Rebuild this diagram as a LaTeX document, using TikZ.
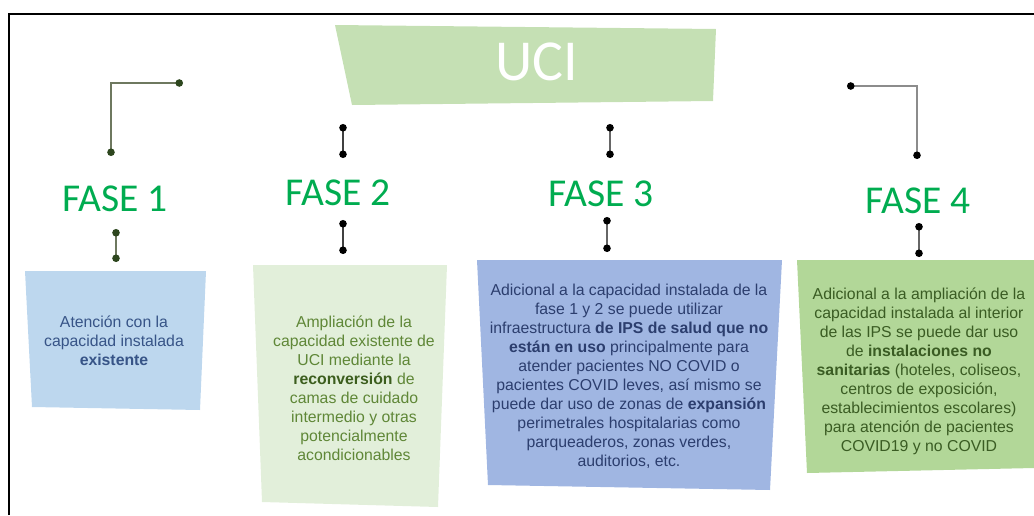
\documentclass[tikz,border=0pt]{standalone}
\usepackage{fontspec}
\setmainfont{Liberation Sans}
\newfontfamily\calibri{Carlito}
\usetikzlibrary{arrows.meta}

\definecolor{bannergreen}{RGB}{197,224,180}
\definecolor{fasegreen}{RGB}{0,172,80}
\definecolor{boxblue}{RGB}{189,215,238}
\definecolor{boxpale}{RGB}{226,239,218}
\definecolor{boxdeep}{RGB}{160,182,226}
\definecolor{boxgreen}{RGB}{178,215,152}
\definecolor{txtblue}{RGB}{55,84,135}
\definecolor{txtolive}{RGB}{95,135,55}
\definecolor{txtolivedk}{RGB}{60,94,30}
\definecolor{txtnavy}{RGB}{44,62,110}
\definecolor{txtgreen}{RGB}{58,92,35}
\definecolor{linkolive}{RGB}{110,120,95}
\definecolor{dotolive}{RGB}{45,70,30}

\tikzset{
  fase/.style={font=\calibri\fontsize{39.5}{39.5}\selectfont, text=fasegreen, inner sep=0pt},
  desc/.style={align=center, font=\fontsize{15.8}{19}\selectfont, inner sep=0pt},
  link/.style={line width=1.3pt, {Circle[length=7.5pt]}-{Circle[length=7.5pt]}},
}

\begin{document}
\begin{tikzpicture}[x=1pt, y=-1pt]
    \useasboundingbox (0,0) rectangle (1034,515);
    % frame of the screenshot
    \draw[line width=1.6pt] (9,515) -- (9,14) -- (1034,14);

    % title banner
    \fill[bannergreen] (335,25) -- (716,29) -- (713,101) -- (352,105) -- cycle;
    \node[font=\calibri\fontsize{58}{58}\selectfont, text=white, inner sep=0pt] (uci) at (537,62) {UCI};

    % phases
    \node[fase] (fase1) at (115,199) {FASE 1};
    \node[fase] (fase2) at (338,193) {FASE 2};
    \node[fase] (fase3) at (601,194) {FASE 3};
    \node[fase] (fase4) at (918,201) {FASE 4};

    % boxes
    \fill[boxblue] (25,271) -- (206,271) -- (200,410) -- (32,407) -- cycle;
    \fill[boxpale] (253,265) -- (447,265) -- (438,507) -- (262,502) -- cycle;
    \fill[boxdeep] (477,260) -- (782,260) -- (770,490) -- (488,485) -- cycle;
    \fill[boxgreen] (797,260) -- (1034,260) -- (1034,468) -- (807,473) -- cycle;

    \node[desc, text=txtblue] (desc1) at (114,341)
        {Atención con la\\ capacidad instalada\\ \textbf{existente}};
    \node[desc, text=txtolive] (desc2) at (354,388)
        {Ampliación de la\\ capacidad existente de\\ UCI mediante la\\
         \textcolor{txtolivedk}{\textbf{reconversión}} de\\ camas de cuidado\\
         intermedio y otras\\ potencialmente\\ acondicionables};
    \node[desc, text=txtnavy] (desc3) at (629,376)
        {Adicional a la capacidad instalada de la\\ fase 1 y 2 se puede utilizar\\
         infraestructura \textbf{de IPS de salud que no}\\
         \textbf{están en uso} principalmente para\\ atender pacientes NO COVID o\\
         pacientes COVID leves, así mismo se\\ puede dar uso de zonas de \textbf{expansión}\\
         perimetrales hospitalarias como\\ parqueaderos, zonas verdes,\\ auditorios, etc.};
    \node[desc, text=txtgreen] (desc4) at (919,371)
        {Adicional a la ampliación de la\\ capacidad instalada al interior\\
         de las IPS se puede dar uso\\ de \textbf{instalaciones no}\\
         \textbf{sanitarias} (hoteles, coliseos,\\ centros de exposición,\\
         establecimientos escolares)\\ para atención de pacientes\\ COVID19 y no COVID};

    % connector ends
    \coordinate (f1a) at (183,83);
    \coordinate (f1b) at (111,156);
    \coordinate (f1c) at (116,229);
    \coordinate (f1d) at (116,262);
    \coordinate (f2a) at (343,124);
    \coordinate (f2b) at (343,158);
    \coordinate (f2c) at (343,220);
    \coordinate (f2d) at (343,254);
    \coordinate (f3a) at (610,124);
    \coordinate (f3b) at (610,158);
    \coordinate (f3c) at (607,217);
    \coordinate (f3d) at (607,252);
    \coordinate (f4a) at (847,86);
    \coordinate (f4b) at (917,159);
    \coordinate (f4c) at (919,223);
    \coordinate (f4d) at (919,257);

    \draw[link, linkolive, {Circle[length=7.5pt, color=dotolive]}-{Circle[length=7.5pt, color=dotolive]}] (f1a) -| (f1b);
    \draw[link, linkolive, {Circle[length=7.5pt, color=dotolive]}-{Circle[length=7.5pt, color=dotolive]}] (f1c) -- (f1d);
    \draw[link, black!75, {Circle[length=7.5pt, color=black]}-{Circle[length=7.5pt, color=black]}] (f2a) -- (f2b);
    \draw[link, black!75, {Circle[length=7.5pt, color=black]}-{Circle[length=7.5pt, color=black]}] (f2c) -- (f2d);
    \draw[link, black!60, {Circle[length=7.5pt, color=black]}-{Circle[length=7.5pt, color=black]}] (f3a) -- (f3b);
    \draw[link, black!60, {Circle[length=7.5pt, color=black]}-{Circle[length=7.5pt, color=black]}] (f3c) -- (f3d);
    \draw[link, black!45, {Circle[length=7.5pt, color=black]}-{Circle[length=7.5pt, color=black]}] (f4a) -| (f4b);
    \draw[link, black!60, {Circle[length=7.5pt, color=black]}-{Circle[length=7.5pt, color=black]}] (f4c) -- (f4d);
\end{tikzpicture}
\end{document}
